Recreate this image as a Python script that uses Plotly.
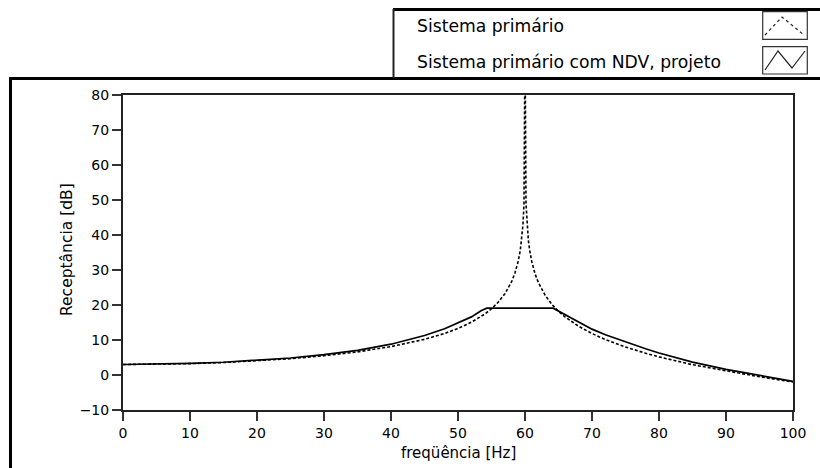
import plotly.graph_objects as go

# ---- data ----
freq_primary = [0, 5, 10, 15, 20, 25, 30, 35, 40, 45, 48, 50, 52, 54, 55, 56, 57, 58, 58.5, 59,
                59.3, 59.5, 59.7, 59.85, 60, 60.15, 60.3, 60.5, 60.7, 61, 61.5, 62, 63, 64, 65,
                66, 68, 70, 72, 75, 78, 80, 85, 90, 95, 100]
db_primary = [3.0, 3.06, 3.25, 3.56, 4.02, 4.66, 5.5, 6.61, 8.11, 10.18, 11.87, 13.3, 15.08, 17.42,
              18.93, 20.8, 23.22, 26.66, 29.12, 32.6, 35.69, 38.6, 43.0, 49.0, 95.0, 49.0, 43.0,
              38.5, 35.6, 32.5, 28.9, 26.4, 22.8, 20.2, 18.2, 16.56, 13.92, 11.85, 10.13, 8.0,
              6.22, 5.18, 2.94, 1.2, -0.5, -2.0]

freq_ndv = [0, 5, 10, 15, 20, 25, 30, 35, 40, 45, 48, 50, 52, 53.5, 54.3, 64.2, 65, 66, 68, 70,
            72, 75, 78, 80, 85, 90, 95, 100]
db_ndv = [3.0, 3.1, 3.3, 3.65, 4.15, 4.85, 5.8, 7.05, 8.8, 11.3, 13.2, 14.8, 16.6, 18.4, 19.1,
          19.1, 18.3, 17.3, 15.2, 13.1, 11.5, 9.4, 7.5, 6.3, 3.7, 1.6, -0.2, -1.8]

x_ticks = [0, 10, 20, 30, 40, 50, 60, 70, 80, 90, 100]
y_ticks = [-10, 0, 10, 20, 30, 40, 50, 60, 70, 80]

legend_labels = ["Sistema primário", "Sistema primário com NDV, projeto"]
x_title = "freqüência [Hz]"
y_title = "Receptância [dB]"

# ---- layout geometry ----
W, H = 820, 468
L, R, T, B = 123, 793, 95, 410  # plot area in pixels


def px(x):
    return (x - L) / (R - L)


def py(y):
    return (B - y) / (B - T)


FONT = "DejaVu Sans"

fig = go.Figure()
fig.add_trace(go.Scatter(x=freq_primary, y=db_primary, mode="lines",
                         line=dict(color="black", width=1.6, dash="3px,2px"),
                         name=legend_labels[0], showlegend=False))
fig.add_trace(go.Scatter(x=freq_ndv, y=db_ndv, mode="lines",
                         line=dict(color="black", width=1.7),
                         name=legend_labels[1], showlegend=False))

shapes = []
# outer frame lines
shapes.append(dict(type="line", xref="paper", yref="paper", x0=px(10.5), x1=px(10.5),
                   y0=py(78), y1=py(470), line=dict(color="black", width=3)))
shapes.append(dict(type="line", xref="paper", yref="paper", x0=px(9), x1=px(822),
                   y0=py(78.5), y1=py(78.5), line=dict(color="black", width=3)))
# legend box
shapes.append(dict(type="line", xref="paper", yref="paper", x0=px(393), x1=px(822),
                   y0=py(9.5), y1=py(9.5), line=dict(color="black", width=3)))
shapes.append(dict(type="line", xref="paper", yref="paper", x0=px(393.5), x1=px(393.5),
                   y0=py(9), y1=py(78), line=dict(color="#222", width=2)))
# legend icon boxes
for (y0, y1) in [(11.7, 39.3), (46.7, 74.0)]:
    shapes.append(dict(type="rect", xref="paper", yref="paper", x0=px(762.7), x1=px(807.3),
                       y0=py(y0), y1=py(y1), line=dict(color="#333", width=1.2)))
# legend icon glyphs
pts1 = [(765, 35), (782, 17), (804, 35)]
pts2 = [(765, 70), (778, 51), (792, 68), (805, 51)]


def path(pts):
    return "M " + " L ".join(f"{px(a):.5f},{py(b):.5f}" for a, b in pts)


shapes.append(dict(type="path", xref="paper", yref="paper", path=path(pts1),
                   line=dict(color="#222", width=1.2, dash="3px,3px")))
shapes.append(dict(type="path", xref="paper", yref="paper", path=path(pts2),
                   line=dict(color="#222", width=1.2)))

annotations = [
    dict(text=legend_labels[0], xref="paper", yref="paper", x=px(415), y=py(26),
         xanchor="left", yanchor="middle", showarrow=False,
         font=dict(family=FONT, size=17.2, color="black")),
    dict(text=legend_labels[1], xref="paper", yref="paper", x=px(415), y=py(62),
         xanchor="left", yanchor="middle", showarrow=False,
         font=dict(family=FONT, size=17.2, color="black")),
    dict(text=x_title, xref="paper", yref="paper", x=px(458), y=py(453),
         xanchor="center", yanchor="middle", showarrow=False,
         font=dict(family=FONT, size=15, color="black")),
    dict(text=y_title, xref="paper", yref="paper", x=px(67), y=py(250),
         xanchor="center", yanchor="middle", showarrow=False, textangle=-90,
         font=dict(family=FONT, size=15.5, color="black")),
]

fig.update_layout(
    width=W, height=H,
    margin=dict(l=L, r=W - R, t=T, b=H - B, pad=0),
    paper_bgcolor="white", plot_bgcolor="white",
    showlegend=False,
    shapes=shapes, annotations=annotations,
    font=dict(family=FONT, size=14, color="black"),
)
fig.update_xaxes(range=[0, 100], tickvals=x_ticks, ticks="outside", ticklen=9, tickwidth=1.5,
                 tickcolor="#333", showline=True, linecolor="#222", linewidth=2, mirror=True,
                 showgrid=False, zeroline=False, tickfont=dict(family=FONT, size=14, color="black"))
fig.update_yaxes(range=[-10, 80], tickvals=y_ticks, ticks="outside", ticklen=9, tickwidth=1.5,
                 tickcolor="#333", showline=True, linecolor="#222", linewidth=2, mirror=True,
                 showgrid=False, zeroline=False, tickfont=dict(family=FONT, size=14, color="black"))

fig.write_html("out.html")
